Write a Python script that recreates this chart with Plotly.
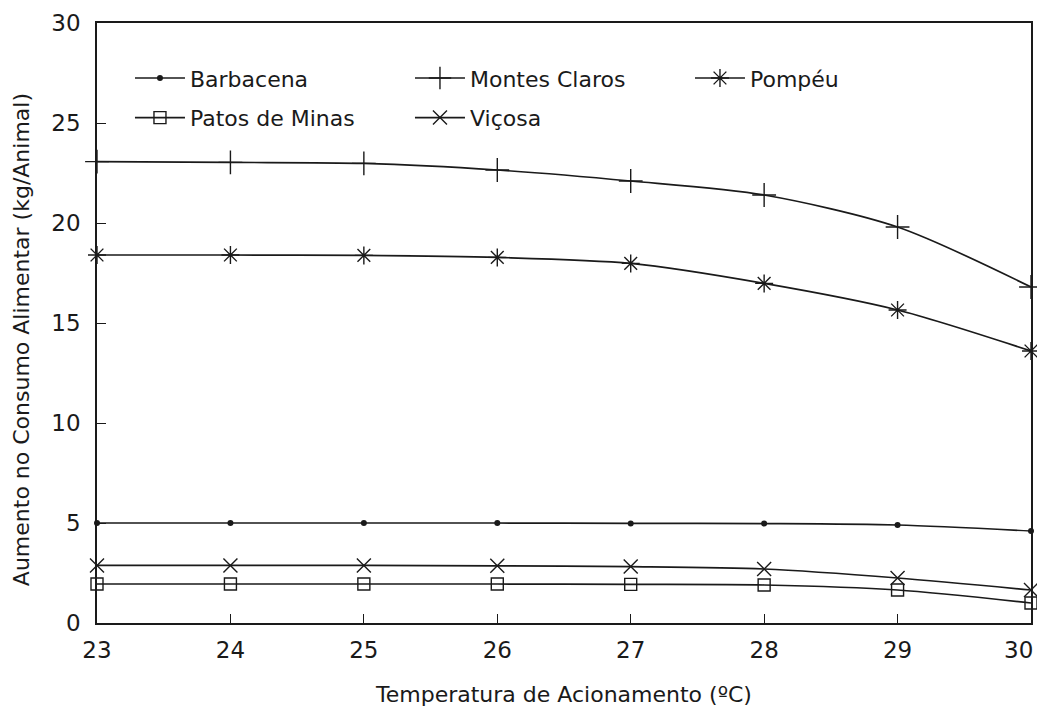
import plotly.graph_objects as go

temps = [23, 24, 25, 26, 27, 28, 29, 30]
barbacena = [5.0, 5.0, 5.0, 5.0, 4.98, 4.97, 4.9, 4.6]
montes_claros = [23.07, 23.03, 22.98, 22.65, 22.1, 21.4, 19.8, 16.8]
pompeu = [18.4, 18.4, 18.38, 18.28, 17.98, 16.98, 15.65, 13.6]
patos = [1.95, 1.95, 1.95, 1.95, 1.93, 1.9, 1.65, 1.0]
vicosa = [2.88, 2.88, 2.88, 2.86, 2.82, 2.7, 2.25, 1.65]

ytick_vals = [0, 5, 10, 15, 20, 25, 30]
xtick_vals = temps

FONT = "DejaVu Sans"
INK = "#1a1a1a"

# the last x tick label is drawn as a right-aligned annotation so it stays inside the window
xtick_text = [str(v) for v in xtick_vals]
last_label = xtick_text[-1]
xtick_text[-1] = ""

series = [
    ("Barbacena", barbacena, dict(symbol="circle", size=6, color=INK), "legend"),
    ("Montes Claros", montes_claros, dict(symbol="cross-thin-open", size=17, line=dict(width=1.4, color=INK)), "legend"),
    ("Pompéu", pompeu, dict(symbol="asterisk-open", size=15, line=dict(width=1.4, color=INK)), "legend"),
    ("Patos de Minas", patos, dict(symbol="square-open", size=12, line=dict(width=1.4, color=INK)), "legend2"),
    ("Viçosa", vicosa, dict(symbol="x-thin-open", size=14, line=dict(width=1.4, color=INK)), "legend2"),
]

fig = go.Figure()
for name, vals, marker, leg in series:
    fig.add_trace(go.Scatter(
        x=temps, y=vals, name=name, mode="lines+markers",
        line=dict(color=INK, width=1.7, shape="spline", smoothing=0.8),
        marker=marker, legend=leg, cliponaxis=False,
    ))

legend_common = dict(
    orientation="h", xanchor="left", yanchor="middle",
    font=dict(family=FONT, size=22, color=INK),
    bgcolor="rgba(0,0,0,0)", entrywidth=215, entrywidthmode="pixels",
    itemwidth=50, traceorder="normal",
)

fig.update_layout(
    width=1037, height=710,
    margin=dict(l=97, r=6, t=23, b=87),
    paper_bgcolor="white", plot_bgcolor="white",
    font=dict(family=FONT, color=INK),
    showlegend=True,
    legend=dict(x=0.0353, y=0.908, **legend_common),
    legend2=dict(x=0.0353, y=0.842, **legend_common),
    xaxis=dict(
        range=[23, 30], tickvals=xtick_vals, ticktext=xtick_text,
        ticks="inside", ticklen=9, tickwidth=1.3, tickcolor=INK,
        showline=True, linecolor=INK, linewidth=1.6, mirror=True,
        showgrid=False, zeroline=False, automargin=False,
        ticklabelstandoff=6,
        tickfont=dict(family=FONT, size=23, color=INK),
        title=dict(text="Temperatura de Acionamento (ºC)", font=dict(family=FONT, size=22, color=INK), standoff=24),
    ),
    yaxis=dict(
        range=[0, 30], tickvals=ytick_vals, ticktext=[str(v) for v in ytick_vals],
        ticks="inside", ticklen=9, tickwidth=1.3, tickcolor=INK,
        showline=True, linecolor=INK, linewidth=1.6, mirror=True,
        showgrid=False, zeroline=False, automargin=False,
        ticklabelstandoff=10, ticklabeloverflow="allow",
        tickfont=dict(family=FONT, size=23, color=INK),
    ),
    annotations=[
        dict(
            text="Aumento no Consumo Alimentar (kg/Animal)",
            xref="paper", yref="paper", x=-0.081, y=0.472,
            xanchor="center", yanchor="middle", textangle=-90, showarrow=False,
            font=dict(family=FONT, size=22, color=INK),
        ),
        dict(
            text=last_label, xref="x", yref="paper", x=xtick_vals[-1], y=0,
            xanchor="right", yanchor="middle", xshift=4, yshift=-27,
            showarrow=False, font=dict(family=FONT, size=23, color=INK),
        ),
    ],
)

fig.write_html(
    "out.html",
    config={"displayModeBar": False},
    post_script="document.body.style.margin='0';document.documentElement.style.overflow='hidden';",
)
